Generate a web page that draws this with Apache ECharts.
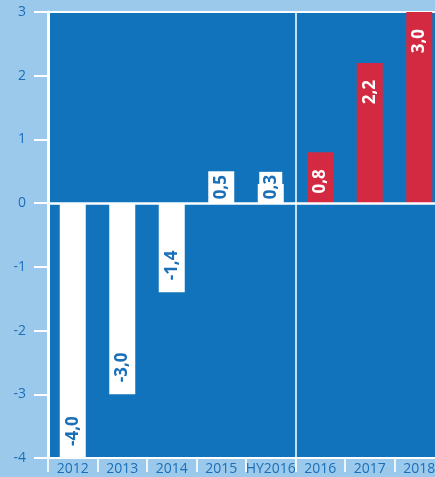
<!DOCTYPE html>
<html>
<head>
<meta charset="utf-8">
<script src="https://cdn.jsdelivr.net/npm/echarts@6/dist/echarts.min.js"></script>
<style>
  html, body { margin: 0; padding: 0; background: #9bc9eb; overflow: hidden; }
  #chart { width: 444px; height: 477px; }
</style>
</head>
<body>
<div id="chart"></div>
<script>
// Annual change, actual years followed by forecast years
const categories = ['2012', '2013', '2014', '2015', 'HY2016', '2016', '2017', '2018'];
const values = [-4.0, -3.0, -1.4, 0.5, 0.3, 0.8, 2.2, 3.0];
const forecastFrom = 5; // index of the first forecast category
const yTicks = { min: -4, max: 3, step: 1 };

const LIGHT = '#9bc9eb';
const DARK = '#1173bb';
const RED = '#d32a42';
const TEXT = '#1a6fb9';
const FONT = '"Open Sans", "DejaVu Sans", sans-serif';

const fmt = v => v.toFixed(1).replace('.', ',');

const barData = values.map((v, i) => {
  const forecast = i >= forecastFrom;
  const fill = forecast ? RED : '#ffffff';
  const label = {
    show: true,
    rotate: 90,
    formatter: fmt(v),
    color: forecast ? '#ffffff' : TEXT,
    fontFamily: FONT,
    fontWeight: 'bold',
    fontSize: 17,
    verticalAlign: 'middle'
  };
  if (v < 0) {
    label.position = 'insideBottom';
    label.align = 'left';
    label.distance = 12;
  } else if (Math.abs(v) < 0.4) {
    // short bar: give the label its own backing box in the bar colour
    label.position = 'insideBottom';
    label.align = 'left';
    label.distance = 2;
    label.backgroundColor = fill;
    label.padding = [3, 3, 3, 2];
  } else if (Math.abs(v) < 0.7) {
    label.position = 'inside';
    label.align = 'center';
  } else {
    label.position = 'insideTop';
    label.align = 'right';
    label.distance = 17;
  }
  return { value: v, itemStyle: { color: fill }, label };
});

const chart = echarts.init(document.getElementById('chart'), null, { renderer: 'canvas' });
chart.setOption({
  backgroundColor: LIGHT,
  animation: false,
  grid: {
    left: 48, top: 12, right: 0, bottom: 19,
    show: true, backgroundColor: DARK, borderColor: '#ffffff', borderWidth: 2,
    containLabel: false
  },
  xAxis: [{
    type: 'category',
    data: categories,
    position: 'bottom',
    axisLine: { show: true, onZero: false, lineStyle: { color: '#ffffff', width: 2 } },
    axisTick: { show: true, inside: false, length: 14, interval: 0, lineStyle: { color: '#eef6fc', width: 2 } },
    axisLabel: { color: TEXT, fontFamily: FONT, fontSize: 14, margin: 4, interval: 0 },
    splitLine: { show: false }
  }, {
    type: 'value', min: 0, max: categories.length, show: false
  }],
  yAxis: {
    type: 'value',
    min: yTicks.min, max: yTicks.max, interval: yTicks.step,
    axisLine: { show: true, lineStyle: { color: '#ffffff', width: 3 } },
    axisTick: { show: true, length: 14, lineStyle: { color: '#ffffff', width: 2 } },
    axisLabel: { color: TEXT, fontFamily: FONT, fontSize: 14, margin: 22 },
    splitLine: { show: false }
  },
  series: [{
    type: 'bar',
    data: barData,
    barWidth: 26,
    markLine: {
      silent: true,
      symbol: 'none',
      label: { show: false },
      lineStyle: { color: '#ffffff', width: 2.5, type: 'solid' },
      data: [{ yAxis: 0 }]
    }
  }, {
    // divider between actual and forecast years
    type: 'line',
    xAxisIndex: 1,
    data: [],
    markLine: {
      silent: true,
      symbol: 'none',
      label: { show: false },
      lineStyle: { color: '#ffffff', width: 1.5, type: 'solid' },
      data: [{ xAxis: forecastFrom }]
    }
  }]
});
</script>
</body>
</html>
